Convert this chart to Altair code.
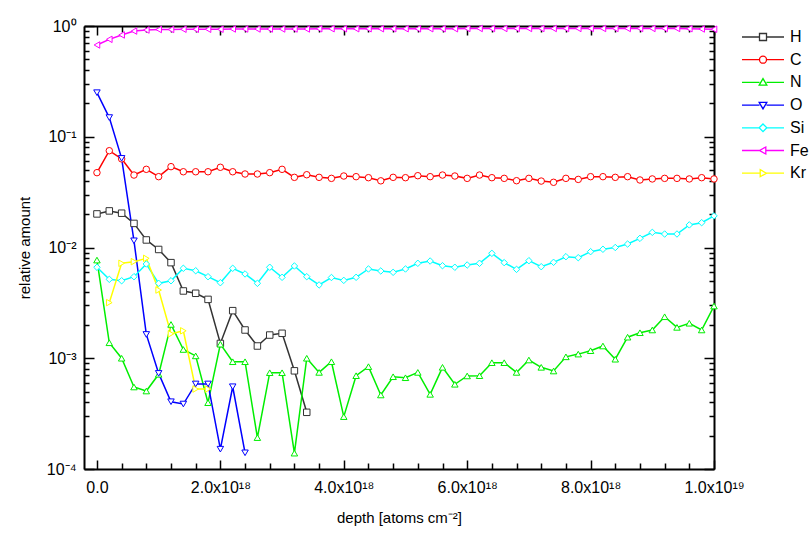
import altair as alt
import pandas as pd

# depth grid in units of 1e18 atoms/cm^2
depth_1e18 = [0.0, 0.2, 0.4, 0.6, 0.8, 1.0, 1.2, 1.4, 1.6, 1.8,
              2.0, 2.2, 2.4, 2.6, 2.8, 3.0, 3.2, 3.4, 3.6, 3.8,
              4.0, 4.2, 4.4, 4.6, 4.8, 5.0, 5.2, 5.4, 5.6, 5.8,
              6.0, 6.2, 6.4, 6.6, 6.8, 7.0, 7.2, 7.4, 7.6, 7.8,
              8.0, 8.2, 8.4, 8.6, 8.8, 9.0, 9.2, 9.4, 9.6, 9.8, 10.0]

H_vals = [0.0201, 0.0214, 0.0204, 0.0165, 0.0117, 0.0096, 0.0073, 0.00405, 0.00386, 0.0034,
          0.00136, 0.00269, 0.0018, 0.00129, 0.00162, 0.00168, 0.00077, 0.000325]
C_vals = [0.0474, 0.0748, 0.0631, 0.0451, 0.0508, 0.0436, 0.0537, 0.0483, 0.0483, 0.0483,
          0.053, 0.0483, 0.0461, 0.0461, 0.0474, 0.0508, 0.043, 0.0454, 0.043, 0.0421,
          0.0442, 0.0436, 0.0427, 0.0400, 0.0430, 0.0427, 0.0445, 0.0436, 0.0451, 0.0442,
          0.0421, 0.0451, 0.0427, 0.0421, 0.0401, 0.0421, 0.0398, 0.0388, 0.0421, 0.0412,
          0.0436, 0.0436, 0.043, 0.0436, 0.0407, 0.0416, 0.0421, 0.0421, 0.0416, 0.0427, 0.0416]
N_vals = [0.0077, 0.00138, 0.001, 0.00055, 0.000506, 0.000716, 0.00202, 0.0012, 0.00105, 0.000397,
          0.00134, 0.00093, 0.00093, 0.000192, 0.00074, 0.00074, 0.000139, 0.001, 0.000745, 0.00093,
          0.000297, 0.000696, 0.00084, 0.000466, 0.000681, 0.000667, 0.000745, 0.000472, 0.000828, 0.000582,
          0.000692, 0.000696, 0.000912, 0.000912, 0.000745, 0.000964, 0.000828, 0.000767, 0.00103, 0.00109,
          0.00117, 0.00129, 0.00098, 0.00155, 0.0017, 0.0018, 0.00237, 0.0019, 0.00207, 0.0018, 0.00296]
O_vals = [0.25, 0.149, 0.0638, 0.0115, 0.00164, 0.00073, 0.000405, 0.000386, 0.000586, 0.000586,
          0.000151, 0.000553, 0.00014]
Si_vals = [0.00663, 0.00516, 0.00501, 0.00545, 0.0071, 0.00475, 0.00501, 0.00649, 0.00617, 0.00545,
           0.00481, 0.00649, 0.00577, 0.00475, 0.00663, 0.00538, 0.00681, 0.00545, 0.00459, 0.00536,
           0.00505, 0.00538, 0.0064, 0.00614, 0.00597, 0.0064, 0.0072, 0.00755, 0.00685, 0.00663,
           0.00695, 0.0072, 0.00886, 0.0073, 0.00635, 0.0076, 0.00671, 0.00735, 0.00826, 0.00809,
           0.00917, 0.00964, 0.01, 0.01075, 0.0121, 0.0137, 0.01324, 0.01324, 0.016, 0.01675, 0.0193]
Fe_vals = [0.674, 0.758, 0.83, 0.90, 0.92, 0.93, 0.93, 0.935, 0.935, 0.935,
           0.935, 0.94, 0.94, 0.94, 0.94, 0.94, 0.94, 0.94, 0.945, 0.945,
           0.945, 0.945, 0.945, 0.945, 0.945, 0.945, 0.945, 0.945, 0.945, 0.945,
           0.95, 0.95, 0.95, 0.95, 0.95, 0.95, 0.95, 0.95, 0.95, 0.95,
           0.95, 0.95, 0.95, 0.95, 0.95, 0.95, 0.95, 0.95, 0.945, 0.94, 0.935]
Kr_vals = [0.00318, 0.0072, 0.00745, 0.00798, 0.00413, 0.00166, 0.00177, 0.000527, 0.000527]

elements = ["H", "C", "N", "O", "Si", "Fe", "Kr"]
start_index = [0, 0, 0, 0, 0, 0, 1]
series_values = [H_vals, C_vals, N_vals, O_vals, Si_vals, Fe_vals, Kr_vals]
colors = ["#333333", "#ff0000", "#00ee00", "#0000ff", "#00ffff", "#ff00ff", "#ffff00"]
shapes = ["square", "circle", "triangle-up", "triangle-down", "diamond", "triangle-left", "triangle-right"]

x_major_values = [0.0, 2e18, 4e18, 6e18, 8e18, 1e19]
x_major_labels = ["0.0", "2.0x10¹⁸", "4.0x10¹⁸", "6.0x10¹⁸", "8.0x10¹⁸", "1.0x10¹⁹"]
x_minor_values = [0.4e18, 0.8e18, 1.2e18, 1.6e18, 2.4e18, 2.8e18, 3.2e18, 3.6e18,
                  4.4e18, 4.8e18, 5.2e18, 5.6e18, 6.4e18, 6.8e18, 7.2e18, 7.6e18,
                  8.4e18, 8.8e18, 9.2e18, 9.6e18]
y_major_values = [1e-4, 1e-3, 1e-2, 1e-1, 1.0]
y_major_labels = ["10⁻⁴", "10⁻³", "10⁻²", "10⁻¹", "10⁰"]
y_minor_values = [2e-4, 3e-4, 4e-4, 5e-4, 6e-4, 7e-4, 8e-4, 9e-4,
                  2e-3, 3e-3, 4e-3, 5e-3, 6e-3, 7e-3, 8e-3, 9e-3,
                  2e-2, 3e-2, 4e-2, 5e-2, 6e-2, 7e-2, 8e-2, 9e-2,
                  0.2, 0.3, 0.4, 0.5, 0.6, 0.7, 0.8, 0.9]

rows = []
for name, vals, s in zip(elements, series_values, start_index):
    for k, v in enumerate(vals):
        rows.append({"el": name, "depth": depth_1e18[s + k] * 1e18, "amount": v})
df = pd.DataFrame(rows)

PW, PH = 630, 443
FONT = "Liberation Sans"


def label_expr(values, labels):
    expr = "''"
    for v, l in reversed(list(zip(values, labels))):
        expr = f"datum.value == {v!r} ? '{l}' : {expr}"
    return expr


xscale = alt.Scale(domain=[-0.21e18, 1.0e19], nice=False, zero=False)
yscale = alt.Scale(type="log", domain=[1e-4, 1.0], nice=False)

x_label_axis = alt.Axis(values=x_major_values, labelExpr=label_expr(x_major_values, x_major_labels),
                        ticks=False, domain=True, domainColor="black", domainWidth=2, grid=False,
                        labelFont=FONT, labelFontSize=16,
                        labelColor="black", labelPadding=10, labelFlush=False, labelOverlap=False,
                        title="depth [atoms cm⁻²]", titleFont=FONT, titleFontSize=15,
                        titleFontWeight="normal", titleColor="black", titlePadding=15)
y_label_axis = alt.Axis(values=y_major_values, labelExpr=label_expr(y_major_values, y_major_labels),
                        ticks=False, domain=True, domainColor="black", domainWidth=2, grid=False,
                        labelFont=FONT, labelFontSize=16,
                        labelColor="black", labelPadding=8, labelFlush=False, labelOverlap=False,
                        title="relative amount", titleFont=FONT, titleFontSize=15,
                        titleFontWeight="normal", titleColor="black", titlePadding=14)


def tick_axis(values, orient, offset, size, domain):
    return alt.Axis(values=values, orient=orient, offset=offset, labels=False, domain=domain,
                    domainColor="black", domainWidth=2,
                    grid=False, tickColor="black", tickWidth=1.5, tickSize=size)


stroke_scale = alt.Scale(domain=elements, range=colors)
shape_scale = alt.Scale(domain=elements, range=shapes)

lines = alt.Chart(df).mark_line(strokeWidth=1.5).encode(
    x=alt.X("depth:Q", scale=xscale, axis=x_label_axis),
    y=alt.Y("amount:Q", scale=yscale, axis=y_label_axis),
    stroke=alt.Stroke("el:N", scale=stroke_scale, legend=None),
)
points = alt.Chart(df).mark_point(filled=True, fill="white", strokeWidth=1, size=42, opacity=1).encode(
    x=alt.X("depth:Q", scale=xscale, axis=x_label_axis),
    y=alt.Y("amount:Q", scale=yscale, axis=y_label_axis),
    stroke=alt.Stroke("el:N", scale=stroke_scale, legend=None),
    shape=alt.Shape("el:N", scale=shape_scale, legend=None),
)
main = alt.layer(lines, points)


def tick_layer(xvals, xorient, xsize, yvals, yorient, ysize, domain=False):
    return alt.Chart(df).mark_point(opacity=0).encode(
        x=alt.X("depth:Q", scale=xscale, title=None, axis=tick_axis(xvals, xorient, -PH, xsize, domain)),
        y=alt.Y("amount:Q", scale=yscale, title=None, axis=tick_axis(yvals, yorient, -PW, ysize, domain)),
    )


tick_layers = [
    tick_layer(x_major_values, "top", 9, y_major_values, "right", 10),
    tick_layer(x_major_values, "bottom", 9, y_major_values, "left", 10, domain=True),
    tick_layer(x_minor_values, "top", 6, y_minor_values, "right", 5),
    tick_layer(x_minor_values, "bottom", 6, y_minor_values, "left", 5),
]

# legend symbols: line segment with the open marker in the middle
legend_paths = [
    "M-3,0H-0.5M0.5,0H3M-0.5,-0.5H0.5V0.5H-0.5Z",
    "M-3,0H-0.5M0.5,0H3M-0.5,0A0.5,0.5 0 1,0 0.5,0A0.5,0.5 0 1,0 -0.5,0Z",
    "M-3,0H-0.5M0.5,0H3M0,-0.55L0.55,0.4H-0.55Z",
    "M-3,0H-0.5M0.5,0H3M0,0.55L0.55,-0.4H-0.55Z",
    "M-3,0H-0.55M0.55,0H3M0,-0.55L0.55,0L0,0.55L-0.55,0Z",
    "M-3,0H-0.5M0.4,0H3M-0.5,0L0.4,-0.5V0.5Z",
    "M-3,0H-0.4M0.5,0H3M0.5,0L-0.4,-0.5V0.5Z",
]
leg = alt.Legend(orient="none", legendX=671, legendY=3, symbolSize=196, symbolStrokeWidth=1.3,
                 symbolFillColor="white", labelFont=FONT, labelFontSize=16, labelColor="black",
                 labelOffset=19, rowPadding=6.7, padding=0)
legend_layer = alt.Chart(df).transform_filter("false").mark_point(filled=False, opacity=1).encode(
    color=alt.Color("el:N", scale=alt.Scale(domain=elements, range=colors), legend=leg, title=None),
    shape=alt.Shape("el:N", scale=alt.Scale(domain=elements, range=legend_paths), legend=leg, title=None),
)

chart = alt.layer(main, *tick_layers, legend_layer).resolve_axis(
    x="independent", y="independent"
).resolve_scale(
    color="independent", shape="independent"
).properties(
    width=PW, height=PH,
    padding={"left": 84, "top": 26, "right": 97, "bottom": 71},
    autosize=alt.AutoSizeParams(type="none"),
    background="white",
).configure_view(stroke="black", strokeWidth=2).configure(font=FONT)

chart.save("out.html", embed_options={"renderer": "svg", "actions": False})
